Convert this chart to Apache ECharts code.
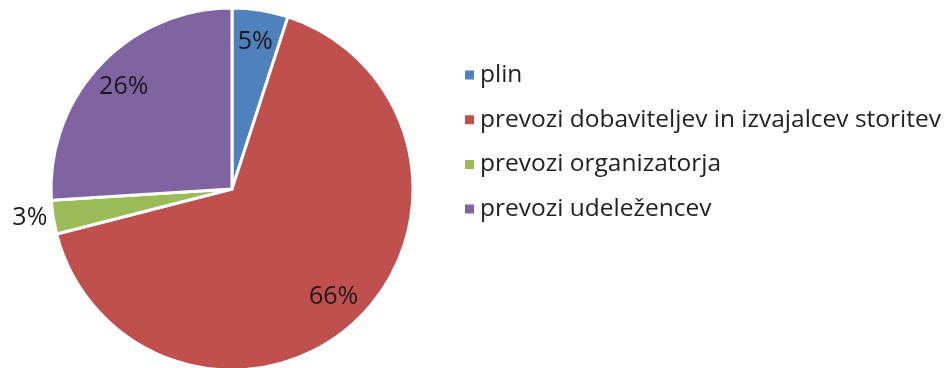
<!DOCTYPE html>
<html>
<head>
<meta charset="utf-8">
<script src="https://cdn.jsdelivr.net/npm/echarts@6/dist/echarts.min.js"></script>
<style>
  html, body { margin: 0; padding: 0; background: #fff; }
  #chart { width: 947px; height: 368px; }
</style>
</head>
<body>
<div id="chart"></div>
<script>
const categories = ['plin', 'prevozi dobaviteljev in izvajalcev storitev', 'prevozi organizatorja', 'prevozi udeležencev']
const values = [5, 66, 3, 26]
const colors = ['#4F81BD', '#C0504D', '#9BBB59', '#8064A2']

const chart = echarts.init(document.getElementById('chart'))
const font = 'Open Sans, Noto Sans, sans-serif'
const center = [232, 189]

const pieData = categories.map((name, i) => ({
  name,
  value: values[i],
  itemStyle: { color: colors[i] }
}))

// transparent ring used only to place the percent labels near the rim
const labelData = categories.map((name, i) => ({
  name,
  value: values[i],
  itemStyle: { color: 'transparent', borderWidth: 0 },
  label: values[i] < 4
    ? { position: 'outside', distanceToLabelLine: 0 }
    : { position: 'inside' },
  labelLine: { show: false, length: 6, length2: 0 }
}))

chart.setOption({
  backgroundColor: '#fff',
  animation: false,
  legend: {
    orient: 'vertical',
    left: 458,
    top: 56,
    itemWidth: 11,
    itemHeight: 11,
    itemGap: 16.7,
    icon: 'rect',
    data: categories,
    textStyle: { fontFamily: font, fontSize: 24.5, color: '#222', lineHeight: 28 }
  },
  series: [{
    type: 'pie',
    center,
    radius: 181,
    startAngle: 90,
    clockwise: true,
    data: pieData,
    label: { show: false },
    labelLine: { show: false },
    itemStyle: { borderColor: '#fff', borderWidth: 3 },
    silent: true
  }, {
    type: 'pie',
    center,
    radius: [110, 181],
    startAngle: 90,
    clockwise: true,
    data: labelData,
    silent: true,
    legendHoverLink: false,
    label: {
      show: true,
      formatter: '{c}%',
      fontFamily: font,
      fontSize: 25,
      color: '#1a1a1a'
    }
  }]
})
</script>
</body>
</html>
